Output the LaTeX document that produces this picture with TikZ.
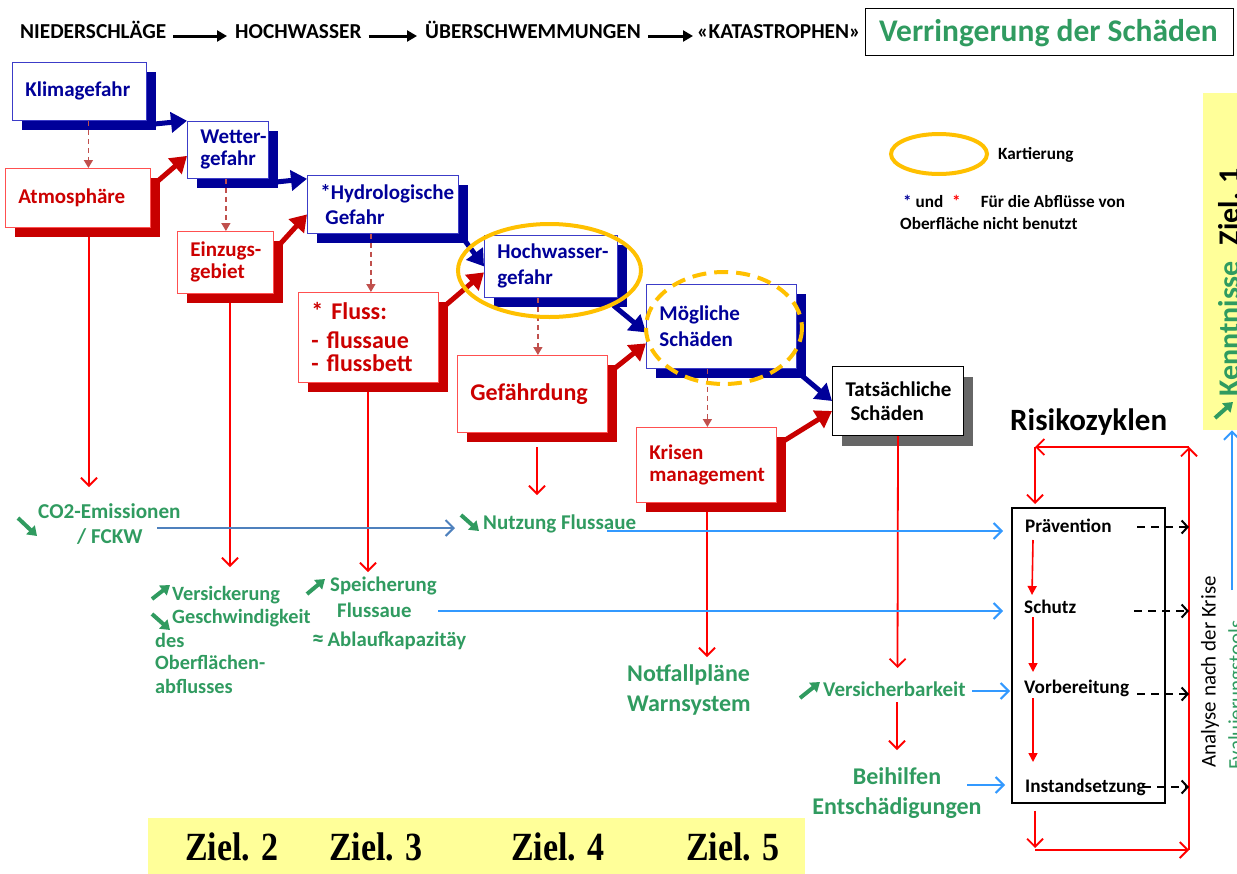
\documentclass[tikz,border=0pt]{standalone}
\usepackage{fontspec}
\setmainfont{Carlito}
\newfontfamily\zielfont{Liberation Serif}
\usetikzlibrary{arrows.meta,shadows,calc}
\pgfdeclarelayer{background}
\pgfsetlayers{background,main}
\definecolor{navy}{RGB}{0,0,153}
\definecolor{boxblue}{RGB}{60,60,200}
\definecolor{dred}{RGB}{204,0,0}
\definecolor{boxred}{RGB}{255,80,80}
\definecolor{sred}{RGB}{200,0,0}
\definecolor{pured}{RGB}{255,0,0}
\definecolor{dashred}{RGB}{192,80,77}
\definecolor{grn}{RGB}{48,155,96}
\definecolor{lblue}{RGB}{51,153,255}
\definecolor{steel}{RGB}{79,129,189}
\definecolor{gold}{RGB}{255,192,0}
\definecolor{lyellow}{RGB}{255,255,153}
\newcommand\mkbox[8]{%
  \pgfmathsetmacro\mytw{#4-26}%
  \node[#7, minimum width=#4pt, minimum height=#5pt, anchor=north west] (#1S) at (#2+10,#3+10) {};
  \node[#6, minimum width=#4pt, minimum height=#5pt, text width=\mytw pt, anchor=north west] (#1) at (#2,#3) {#8};}
\begin{document}
\begin{tikzpicture}[x=1pt,y=-1pt,
  bbox/.style={draw=boxblue, line width=0.8pt, fill=white, text=navy, font=\fontsize{21}{24}\selectfont\bfseries, align=left, inner xsep=13pt, inner ysep=2pt},
  rbox/.style={draw=boxred, line width=0.8pt, fill=white, text=dred, font=\fontsize{21}{24}\selectfont\bfseries, align=left, inner xsep=13pt, inner ysep=2pt},
  bshad/.style={fill=navy, draw=none, inner sep=0pt},
  rshad/.style={fill=sred, draw=none, inner sep=0pt},
  thickb/.style={navy, line width=5pt, -{Triangle[length=16pt,width=20pt]}},
  thickr/.style={sred, line width=5pt, -{Triangle[length=16pt,width=20pt]}},
  dasharr/.style={dashred, line width=1.5pt, dash pattern=on 5pt off 4pt, -{Triangle[length=8pt,width=9pt]}},
  redarr/.style={pured, line width=1.8pt, -{Straight Barb[length=8pt,width=16pt]}},
  redtri/.style={pured, line width=1.6pt, -{Triangle[length=9pt,width=9pt]}},
  blarr/.style={lblue, line width=2pt, -{Straight Barb[length=8pt,width=16pt]}},
  starr/.style={steel, line width=2pt, -{Straight Barb[length=8pt,width=16pt]}},
  garr/.style={grn, line width=4pt, -{Triangle[length=9pt,width=12pt]}},
  toparr/.style={black, line width=3pt, -{Triangle[length=10pt,width=11pt]}},
  blkdash/.style={black, line width=2pt, dash pattern=on 8pt off 6pt, -{Straight Barb[length=6pt,width=13pt]}},
  toptxt/.style={anchor=base west, inner sep=0pt, font=\fontsize{21.3}{21}\selectfont\bfseries},
  gtxt/.style={anchor=base west, inner sep=0pt, text=grn, font=\fontsize{20.3}{20}\selectfont\bfseries},
  gbig/.style={anchor=base west, inner sep=0pt, text=grn, font=\fontsize{24}{24}\selectfont\bfseries},
  ztxt/.style={anchor=base west, inner sep=0pt, font=\fontsize{19.2}{19}\selectfont\bfseries},
  legt/.style={anchor=base west, inner sep=0pt, font=\fontsize{17.2}{17}\selectfont\bfseries},
  zielt/.style={anchor=base, inner sep=0pt, font=\zielfont\bfseries\fontsize{40}{40}\selectfont}
]
\useasboundingbox (0,0) rectangle (1237,873);
\clip (0,0) rectangle (1237,873);

% ---------- top row ----------
\node[toptxt] (t1) at (20,38) {NIEDERSCHLÄGE};
\node[toptxt] (t2) at (235,38) {HOCHWASSER};
\node[toptxt] (t3) at (425,38) {ÜBERSCHWEMMUNGEN};
\node[toptxt] (t4) at (697,38) {«KATASTROPHEN»};
\draw[toparr] ([shift={(7pt,2pt)}]t1.base east) -- ([shift={(-8pt,2pt)}]t2.base west);
\draw[toparr] ([shift={(7pt,2pt)}]t2.base east) -- ([shift={(-8pt,2pt)}]t3.base west);
\draw[toparr] ([shift={(7pt,2pt)}]t3.base east) -- ([shift={(-4pt,2pt)}]t4.base west);
\node[draw=black, line width=0.8pt, minimum width=368pt, minimum height=47pt, anchor=north west, inner sep=0pt] (vbox) at (865,8) {};
\node[anchor=base west, inner sep=0pt, text=grn, font=\fontsize{31.5}{31}\selectfont\bfseries] (vtxt) at (879,41) {Verringerung der Schäden};

% ---------- boxes ----------
\mkbox{klima}{12}{62}{134}{58}{bbox}{bshad}{Klimagefahr}
\mkbox{wetter}{187}{121}{81}{57}{bbox, font=\fontsize{21}{22}\selectfont\bfseries}{bshad}{\mbox{Wetter-}\\gefahr}
\mkbox{hydro}{307}{175}{151}{58}{bbox, font=\fontsize{21}{25}\selectfont\bfseries}{bshad}{\mbox{*Hydrologische}\\\hspace*{5pt}Gefahr}
\mkbox{atmos}{5}{168}{145}{59}{rbox}{rshad}{Atmosphäre}
\mkbox{einz}{177}{231}{96}{62}{rbox, font=\fontsize{21}{22}\selectfont\bfseries}{rshad}{\mbox{Einzugs-}\\gebiet}
\mkbox{fluss}{298}{292}{140}{90}{rbox, font=\fontsize{24}{23}\selectfont\bfseries}{rshad}{* Fluss:\\[6pt]- flussaue\\- flussbett}
\mkbox{hochw}{484}{235}{133}{62}{bbox, font=\fontsize{21}{26}\selectfont\bfseries}{bshad}{\mbox{Hochwasser-}\\gefahr}
\mkbox{gefahr}{457}{355}{150}{77}{rbox, font=\fontsize{24}{26}\selectfont\bfseries}{rshad}{Gefährdung}
\mkbox{moeg}{646}{284}{150}{84}{bbox, font=\fontsize{21}{26}\selectfont\bfseries}{bshad}{Mögliche\\Schäden}
\mkbox{krisen}{636}{427}{140}{75}{rbox, font=\fontsize{21}{22}\selectfont\bfseries}{rshad}{Krisen\\management}
\node[draw=black, line width=1pt, fill=white, text=black, font=\fontsize{21}{24}\selectfont\bfseries, align=left, inner xsep=13pt, inner ysep=2pt, minimum width=131pt, minimum height=69pt, text width=105pt, anchor=north west, drop shadow={shadow xshift=9pt, shadow yshift=-10pt, fill=black, opacity=0.6}] (tats) at (832,366) {Tatsächliche\\\hspace*{5pt}Schäden};

% ---------- thick arrows (behind) ----------
\begin{pgfonlayer}{background}
\draw[thickb] ([shift={(-6pt,6pt)}]klimaS.south east) -- (klima.south east -| wetter.west);
\draw[thickb] ([shift={(-6pt,6pt)}]wetterS.south east) -- (wetter.south east -| hydro.west);
\draw[thickb] ([shift={(-6pt,6pt)}]hydroS.south east) -- (hochw.west);
\draw[thickb] ([shift={(-14pt,2pt)}]hochwS.south east) -- ([yshift=-6pt]moeg.west);
\draw[thickb] ([shift={(-6pt,4pt)}]moegS.south east) -- (tats.west);
\draw[thickr] ([shift={(-6pt,-6pt)}]atmosS.north east) -- ([yshift=-6pt]wetter.west);
\draw[thickr] ([shift={(-6pt,-6pt)}]einzS.north east) -- ([yshift=-10pt]hydro.west);
\draw[thickr] ([shift={(-6pt,-6pt)}]flussS.north east) -- ([yshift=-6pt]hochw.west);
\draw[thickr] ([shift={(-6pt,-6pt)}]gefahrS.north east) -- ([yshift=-17pt]moeg.west);
\draw[thickr] ([shift={(-6pt,-6pt)}]krisenS.north east) -- ([yshift=-10pt]tats.west);
\end{pgfonlayer}

% ---------- dashed arrows ----------
\draw[dasharr] ([xshift=9pt]klima.south) -- ([xshift=9pt]klima.south |- atmos.north);
\draw[dasharr] ([xshift=-2pt]wetter.south) -- ([xshift=-2pt]wetter.south |- einz.north);
\draw[dasharr] ([xshift=-12pt]hydro.south) -- ([xshift=-12pt]hydro.south |- fluss.north);
\draw[dasharr] ([xshift=-13pt]hochw.south) -- ([xshift=-13pt]hochw.south |- gefahr.north);
\draw[dasharr] ([xshift=-14pt]moeg.south) -- ([xshift=-14pt]moeg.south |- krisen.north);

% ---------- ellipses ----------
\draw[gold, line width=4pt] (549.5,270.5) ellipse [x radius=91.5, y radius=46.5];
\draw[gold, line width=4pt, dash pattern=on 14pt off 8pt] (724,328) ellipse [x radius=78, y radius=56];

% ---------- legend ----------
\draw[gold, line width=4pt] (939,154) ellipse [x radius=48, y radius=20];
\node[legt] (kart) at (998,159) {Kartierung};
\node[legt] (leg1) at (903,207) {\textcolor{navy}{*} und \hspace{5pt}\textcolor{pured}{*}\hspace{20pt}Für die Abflüsse von};
\node[legt] (leg2) at (900,229) {Oberfläche nicht benutzt};

% ---------- green texts ----------
\node[gtxt, font=\fontsize{21.2}{21}\selectfont\bfseries] (co2) at (38,518.5) {CO2-Emissionen};
\node[gtxt, font=\fontsize{21.2}{21}\selectfont\bfseries] (fckw) at (77,543.5) {/ FCKW};
\node[gtxt, font=\fontsize{21}{21}\selectfont\bfseries] (nutz) at (483,529.5) {Nutzung Flussaue};
\node[gtxt] (vsick) at (172,600) {Versickerung};
\node[gtxt] (gesch) at (172,623.5) {Geschwindigkeit};
\node[gtxt] (des) at (155,647.5) {des};
\node[gtxt] (oberf) at (155,669.5) {Oberflächen-};
\node[gtxt] (abfl) at (155,693.5) {abflusses};
\node[gtxt, font=\fontsize{20.8}{21}\selectfont\bfseries] (speich) at (330,591.5) {Speicherung};
\node[gtxt, font=\fontsize{20.8}{21}\selectfont\bfseries] (flaue) at (337,617.5) {Flussaue};
\node[gtxt, font=\fontsize{20.8}{21}\selectfont\bfseries] (ablauf) at (312,646.5) {{\fontsize{24}{24}\selectfont ≈}\,Ablaufkapazitäy};
\node[gbig] (notf) at (627,681) {Notfallpläne};
\node[gbig] (warn) at (627,711) {Warnsystem};
\node[gtxt, font=\fontsize{21}{21}\selectfont\bfseries] (vers) at (823,696.5) {Versicherbarkeit};
\node[gbig, anchor=base] (beih) at (897,784) {Beihilfen};
\node[gbig, anchor=base] (entsch) at (897,814) {Entschädigungen};

% green small arrows
\draw[garr] (18,518) -- (37,536);
\draw[garr] (461,515) -- (479,531);
\draw[garr] (152,599) -- (170,585);
\draw[garr] (152,614) -- (170,630);
\draw[garr] (307,594) -- (325,579);
\draw[garr] (800,698) -- (820,682);

% ---------- Risikozyklen ----------
\node[anchor=base west, inner sep=0pt, font=\fontsize{31}{31}\selectfont\bfseries] (risk) at (1010,430) {Risikozyklen};
\node[draw=black, line width=1.5pt, minimum width=153pt, minimum height=295pt, anchor=north west, inner sep=0pt] (zyk) at (1011,507) {};
\node[ztxt] (praev) at (1025,532) {Prävention};
\node[ztxt] (schutz) at (1024,613) {Schutz};
\node[ztxt] (vorb) at (1024,693) {Vorbereitung};
\node[ztxt] (inst) at (1025,792) {Instandsetzung};
\draw[redtri] ([shift={(8pt,-8pt)}]praev.base west) -- ([shift={(8pt,18pt)}]schutz.base west);
\draw[redtri] ([shift={(9pt,-4pt)}]schutz.base west) -- ([shift={(9pt,21pt)}]vorb.base west);
\draw[redtri] ([shift={(9pt,-5pt)}]vorb.base west) -- ([shift={(8pt,30pt)}]inst.base west);

\coordinate (Ctl) at (1035,447);
\coordinate (Ctr) at (1189,447);
\coordinate (Cbl) at (1035,850);
\coordinate (Cbr) at (1189,850);
\draw[redarr] (Cbr) -- (Ctr);
\draw[redarr] (Ctr) -- (Ctl);
\draw[redarr] (Ctl) -- ([yshift=3pt]Ctl |- zyk.north);
\draw[redarr] ([yshift=-7pt]Ctl |- zyk.south) -- ([yshift=2pt]Cbl);
\draw[redarr] (Cbl) -- (Cbr);

\coordinate (dp1) at (1137,527);
\coordinate (dp2) at (1134,611);
\coordinate (dp3) at (1137,694);
\coordinate (dp4) at (1143,787);
\draw[blkdash] (dp1) -- (dp1 -| Ctr);
\draw[blkdash] (dp2) -- (dp2 -| Ctr);
\draw[blkdash] (dp3) -- (dp3 -| Ctr);
\draw[blkdash] (dp4) -- (dp4 -| Ctr);

\node[rotate=90, inner sep=0pt, font=\fontsize{21}{21}\selectfont] (anal) at (1210,672) {Analyse nach der Krise};
\node[rotate=90, anchor=north west, inner sep=0pt, text=grn, font=\fontsize{21}{21}\selectfont] (evtxt) at (1228,770) {Evaluierungstools};

% ---------- Ziel 1 ----------
\node[fill=lyellow, minimum width=40pt, minimum height=337pt, anchor=north west, inner sep=0pt] (z1box) at (1203,93) {};
\node[rotate=90, anchor=north west, inner sep=0pt, font=\fontsize{30}{30}\selectfont\bfseries] (z1txt) at (1218,397) {\textcolor{grn}{Kenntnisse}\hspace{16pt}Ziel. 1};
\draw[garr] (1215,418) -- (1233,402);
\coordinate (ev1) at (1232,590);
\draw[blarr] (ev1) -- (ev1 |- z1box.south);

% ---------- Ziel bar ----------
\node[fill=lyellow, minimum width=657pt, minimum height=60pt, anchor=north west, inner sep=0pt] (zbar) at (148,818) {};
\node[zielt] (z2) at (232,860) {\scalebox{0.85}[1]{Ziel. 2}};
\node[zielt] (z3) at (376,860) {\scalebox{0.85}[1]{Ziel. 3}};
\node[zielt] (z4) at (558,860) {\scalebox{0.85}[1]{Ziel. 4}};
\node[zielt] (z5) at (733,860) {\scalebox{0.85}[1]{Ziel. 5}};

% ---------- red thin arrows ----------
\coordinate (e1) at (89,487);
\coordinate (e2) at (230,567);
\coordinate (e3) at (368,572);
\coordinate (e4a) at (537,447);
\coordinate (e4) at (537,495);
\coordinate (e5) at (707,657);
\coordinate (e6) at (897.5,668);
\coordinate (e7a) at (897,702);
\coordinate (e7) at (897,750);
\draw[redarr] (atmosS.south -| e1) -- (e1);
\draw[redarr] (einzS.south -| e2) -- (e2);
\draw[redarr] (flussS.south -| e3) -- (e3);
\draw[redarr] (e4a) -- (e4);
\draw[redarr] (krisenS.south -| e5) -- (e5);
\draw[redarr] (tats.south) -- (e6);
\draw[redarr] (e7a) -- (e7);

% ---------- blue arrows ----------
\coordinate (b1a) at (157,528);
\coordinate (b1b) at (455,528);
\coordinate (b2a) at (607,531);
\coordinate (b3a) at (438,611);
\coordinate (b4a) at (972,691);
\coordinate (b5a) at (967,785);
\draw[starr] (b1a) -- (b1b);
\draw[blarr] (b2a) -- ([xshift=-8pt]zyk.west |- b2a);
\draw[blarr] (b3a) -- ([xshift=-8pt]zyk.west |- b3a);
\draw[blarr] (b4a) -- ([xshift=-1pt]zyk.west |- b4a);
\draw[blarr] (b5a) -- ([xshift=-6pt]zyk.west |- b5a);
\end{tikzpicture}
\end{document}
